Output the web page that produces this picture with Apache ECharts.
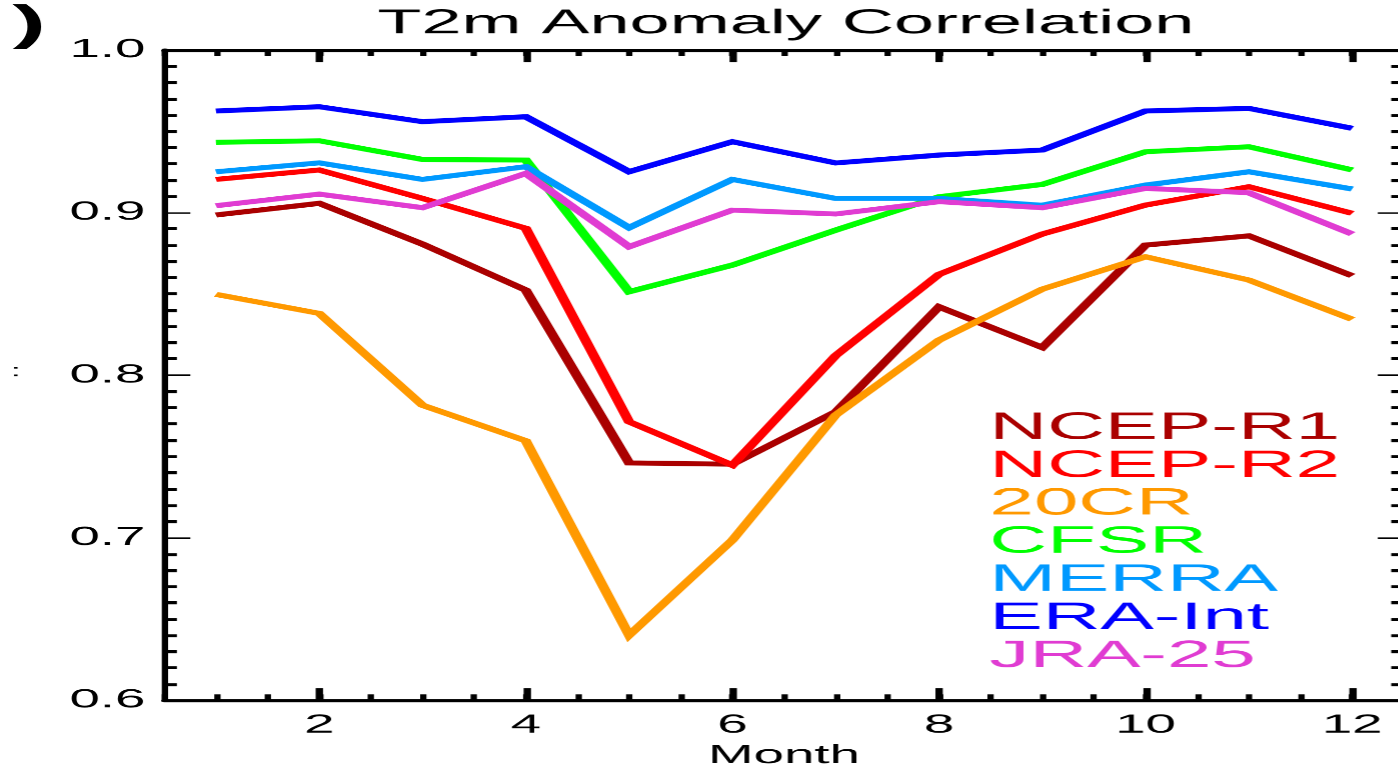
<!DOCTYPE html>
<html>
<head>
<meta charset="utf-8">
<script src="https://cdn.jsdelivr.net/npm/echarts@6/dist/echarts.min.js"></script>
<style>
html, body { margin: 0; padding: 0; background: #fff; overflow: hidden; }
/* the reference figure is stretched horizontally, so the chart is drawn narrow and scaled */
#chart { width: 665.714px; height: 765px; transform: scaleX(2.1); transform-origin: 0 0; }
</style>
</head>
<body>
<div id="chart"></div>
<script>
var S = 2.1;
var FONT = '"Liberation Sans", Arial, Helvetica, sans-serif';

var months = [1, 2, 3, 4, 5, 6, 7, 8, 9, 10, 11, 12];
var xTickLabels = [2, 4, 6, 8, 10, 12];
var names = ['NCEP-R1', 'NCEP-R2', '20CR', 'CFSR', 'MERRA', 'ERA-Int', 'JRA-25'];
var colors = ['#aa0000', '#ff0000', '#ff9900', '#00ff00', '#0099ff', '#0000ff', '#e03cd2'];

var ncepR1 = [0.8985, 0.9057, 0.8806, 0.8523, 0.7460, 0.7452, 0.7774, 0.8420, 0.8170, 0.8800, 0.8857, 0.8611];
var ncepR2 = [0.9204, 0.9262, 0.9087, 0.8903, 0.7713, 0.7446, 0.8120, 0.8620, 0.8868, 0.9046, 0.9159, 0.8995];
var cr20   = [0.8497, 0.8380, 0.7815, 0.7596, 0.6400, 0.6985, 0.7754, 0.8215, 0.8529, 0.8728, 0.8585, 0.8343];
var cfsr   = [0.9432, 0.9442, 0.9327, 0.9323, 0.8513, 0.8677, 0.8892, 0.9097, 0.9173, 0.9374, 0.9405, 0.9262];
var merra  = [0.9251, 0.9306, 0.9204, 0.9282, 0.8907, 0.9204, 0.9087, 0.9087, 0.9045, 0.9169, 0.9251, 0.9145];
var eraInt = [0.9625, 0.9651, 0.9559, 0.9590, 0.9251, 0.9436, 0.9305, 0.9354, 0.9385, 0.9625, 0.9641, 0.9518];
var jra25  = [0.9042, 0.9114, 0.9030, 0.9241, 0.8790, 0.9015, 0.8991, 0.9067, 0.9030, 0.9149, 0.9122, 0.8868];

var seriesValues = [ncepR1, ncepR2, cr20, cfsr, merra, eraInt, jra25];

var chart = echarts.init(document.getElementById('chart'), null, { devicePixelRatio: S });

function xAxisFor(position, major) {
  var ax = {
    type: 'value', position: position, min: 0.5, max: 12.5, interval: 0.5,
    axisLine: { show: !major, lineStyle: { color: '#000', width: 3 } },
    axisTick: { show: true, inside: true, length: major ? 12 : 6, lineStyle: { color: '#000', width: major ? 3.5 : 3 } },
    axisLabel: { show: false },
    splitLine: { show: false }
  };
  if (major) ax.axisTick.customValues = xTickLabels;
  return ax;
}

var bottomAxis = xAxisFor('bottom', false);
bottomAxis.axisLabel = {
  show: true, color: '#000', fontFamily: FONT, fontSize: 26, margin: 12,
  formatter: function (v) { return xTickLabels.indexOf(Math.round(v * 2) / 2) >= 0 ? String(v) : ''; }
};
bottomAxis.name = 'Month';
bottomAxis.nameLocation = 'middle';
bottomAxis.nameGap = 36;
bottomAxis.nameTextStyle = { color: '#000', fontFamily: FONT, fontSize: 26 };

function yAxisFor(position, labels) {
  return {
    type: 'value', position: position, min: 0.6, max: 1.0, interval: 0.1,
    axisLine: { show: true, lineStyle: { color: '#000', width: 3 } },
    axisTick: { show: true, inside: true, length: 12.4, lineStyle: { color: '#000', width: 1.5 } },
    minorTick: { show: true, splitNumber: 10, length: 6, lineStyle: { color: '#000', width: 3 } },
    axisLabel: {
      show: labels, color: '#000', fontFamily: FONT, fontSize: 26, margin: 9,
      formatter: function (v) { return v.toFixed(1); }
    },
    splitLine: { show: false }, minorSplitLine: { show: false }
  };
}

var option = {
  animation: false,
  backgroundColor: '#fff',
  title: {
    text: 'T2m Anomaly Correlation',
    left: 785.5 / S, top: 7, textAlign: 'center', padding: 0,
    textStyle: { color: '#000', fontFamily: FONT, fontSize: 34.3, fontWeight: 'normal' }
  },
  graphic: [{
    type: 'text', left: 6, top: 2,
    style: { text: ')', font: 'bold 48px ' + FONT, fill: '#000' }
  }, {
    type: 'text', left: 5, top: 362,
    style: { text: ':', font: '18px ' + FONT, fill: '#000' }
  }],
  grid: { left: 164.2 / S, top: 50, width: 1239 / S, height: 650, containLabel: false, outerBoundsMode: 'none' },
  legend: {
    orient: 'vertical', left: 466, top: 409, padding: 0, itemGap: 0,
    itemWidth: 0, itemHeight: 10, selectedMode: false,
    data: names.map(function (n, i) {
      return { name: n, icon: 'none', textStyle: { color: colors[i] } };
    }),
    textStyle: { fontFamily: FONT, fontSize: 38, lineHeight: 37.8 }
  },
  xAxis: [bottomAxis, xAxisFor('bottom', true), xAxisFor('top', false), xAxisFor('top', true)],
  yAxis: [yAxisFor('left', true), yAxisFor('right', false)],
  series: names.map(function (n, i) {
    return {
      name: n, type: 'line', xAxisIndex: 0, yAxisIndex: 0,
      symbol: 'none', showSymbol: false, color: colors[i],
      lineStyle: { color: colors[i], width: 5, join: 'miter' },
      z: 2 + i,
      data: months.map(function (m, k) { return [m, seriesValues[i][k]]; })
    };
  })
};

chart.setOption(option);
</script>
</body>
</html>
